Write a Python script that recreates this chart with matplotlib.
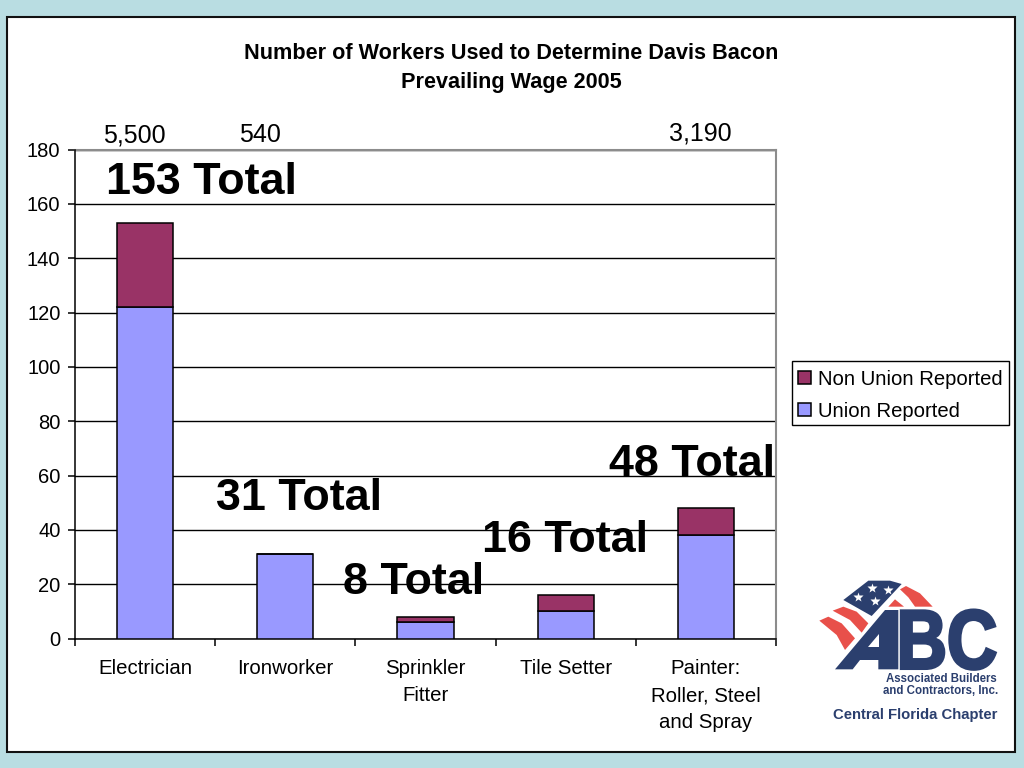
import matplotlib
matplotlib.use("Agg")
import matplotlib.pyplot as plt
import numpy as np
from matplotlib.patches import Polygon, PathPatch, Rectangle
from matplotlib.textpath import TextPath
from matplotlib.font_manager import FontProperties
from matplotlib.transforms import Affine2D

plt.rcParams['font.family'] = ['Liberation Sans', 'DejaVu Sans']

categorias = ['Electrician', 'Ironworker', 'Sprinkler\nFitter', 'Tile Setter', 'Painter:\nRoller, Steel\nand Spray']
union = [122, 31, 6, 10, 38]
non_union = [31, 0, 2, 6, 10]
totales = ['153 Total', '31 Total', '8 Total', '16 Total', '48 Total']
poblacion = ['5,500', '540', '3,190']
titulo = 'Number of Workers Used to Determine Davis Bacon\nPrevailing Wage 2005'

W, H = 1024, 768
AZUL = '#2B3F6E'
ROJO = '#E8504A'

fig = plt.figure(figsize=(W / 100, H / 100), dpi=100, facecolor='#B9DDE2')

# capa de fondo y anotaciones en pixeles
fondo = fig.add_axes([0, 0, 1, 1], zorder=0)
fondo.set_xlim(0, W)
fondo.set_ylim(H, 0)
fondo.axis('off')
fondo.add_patch(Rectangle((7, 17), 1008, 735, fc='white', ec='#111111', lw=1.5))
# marco de la leyenda, aparte para poder bajar el texto
fondo.add_patch(Rectangle((792, 361), 217, 64, fc='white', ec='black', lw=1.0))

# grafico principal
ax = fig.add_axes([75 / W, 1 - 638.5 / H, 701 / W, 489 / H], zorder=1)
ax.patch.set_alpha(0)
x = np.arange(len(categorias))
ax.bar(x, union, width=0.4, color='#9999FF', edgecolor='black', linewidth=1.1, zorder=3, label='Union Reported')
ax.bar(x, non_union, width=0.4, bottom=union, color='#993366', edgecolor='black', linewidth=1.1, zorder=3,
       label='Non Union Reported')
ax.set_xlim(-0.5, 4.5)
ax.set_ylim(0, 180)
ax.set_yticks(range(0, 181, 20))
ax.tick_params(axis='y', labelsize=14.5, length=5, width=1.1, pad=5.5)
ax.grid(axis='y', color='black', linewidth=1.0, zorder=1)
ax.set_xticks(np.arange(-0.5, 5, 1))
ax.set_xticklabels([])
ax.tick_params(axis='x', length=5, width=1.1)
ax.set_xticks(x, minor=True)
ax.set_xticklabels(categorias, minor=True, fontsize=14.7, linespacing=1.52)
ax.tick_params(axis='x', which='minor', length=0, pad=15)
for lado in ['top', 'right']:
    ax.spines[lado].set_color('#8C8C8C')
    ax.spines[lado].set_linewidth(1.5)
    ax.spines[lado].set_zorder(2)
ax.spines['left'].set_linewidth(1.1)
ax.spines['bottom'].set_linewidth(1.1)

h, l = ax.get_legend_handles_labels()
leg = fig.legend(h[::-1], l[::-1], loc='lower left', bbox_to_anchor=(792 / W, 1 - 427 / H, 217 / W, 64 / H),
                 mode='expand', fontsize=14.6, frameon=False,
                 borderaxespad=0, handlelength=0.62, handleheight=0.62, handletextpad=0.35,
                 labelspacing=0.62, borderpad=0.32)

# capa superior
capa = fig.add_axes([0, 0, 1, 1], zorder=2)
capa.set_xlim(0, W)
capa.set_ylim(H, 0)
capa.axis('off')

capa.text(511.5, 68, titulo, ha='center', va='center', fontsize=15.6, fontweight='bold', linespacing=1.55)

for txt, px, py in zip(poblacion, [134.5, 260, 700], [135, 135, 133]):
    capa.text(px, py, txt, ha='center', va='center', fontsize=18)

pos_totales = [(201, 183), (299, 498), (414, 583), (564.5, 541), (692, 464)]
for txt, (px, py) in zip(totales, pos_totales):
    capa.text(px, py, txt, ha='center', va='center', fontsize=32.3, fontweight='bold')


# logo: coordenadas del recorte ampliado x3 a partir de (800, 560)
def lp(puntos):
    return [(800 + a / 3, 560 + b / 3) for a, b in puntos]


capa.add_patch(Polygon(lp([(130, 120), (205, 62), (270, 62), (305, 72), (215, 168)]), fc=AZUL, ec='none'))
for a, b in [(217, 85), (265, 90), (175, 110), (226, 123)]:
    (sx, sy), = lp([(a, b)])
    capa.plot(sx, sy, marker='*', ms=7, color='white', mec='none')
rayas = [
    [(300, 88), (318, 78), (360, 100), (398, 140), (345, 140), (325, 112)],
    [(265, 140), (285, 118), (312, 140)],
    [(98, 152), (130, 140), (170, 155), (205, 190), (185, 218), (150, 180)],
    [(58, 182), (85, 170), (125, 190), (165, 235), (135, 270), (110, 225)],
]
for r in rayas:
    capa.add_patch(Polygon(lp(r), fc=ROJO, ec='none'))

capa.add_patch(Polygon(lp([(105, 328), (255, 150), (295, 150), (295, 328), (235, 328), (235, 300), (180, 300),
                           (158, 328)]), fc=AZUL, ec='none'))
capa.add_patch(Polygon(lp([(205, 262), (238, 262), (238, 222)]), fc='white', ec='none'))

fp = FontProperties(family='Liberation Sans', weight='bold')
tp = TextPath((0, 0), 'BC', size=100, prop=fp)
caja = tp.get_extents()
ancho, alto = (586 - 304) / 3, (328 - 150) / 3
trans = (Affine2D().translate(-caja.x0, -caja.y0)
         .scale(ancho / caja.width, -alto / caja.height)
         .translate(800 + 304 / 3, 560 + 328 / 3))
capa.add_patch(PathPatch(trans.transform_path(tp), fc=AZUL, ec=AZUL, lw=2.2))

capa.text(941, 685, 'Associated Builders\nand Contractors, Inc.', ha='center', va='center', color=AZUL,
          fontsize=8.3, fontweight='bold', linespacing=1.0)
capa.text(915.5, 715.5, 'Central Florida Chapter', ha='center', va='center', color=AZUL,
          fontsize=10.7, fontweight='bold')

fig.savefig('out.png', dpi=100, facecolor=fig.get_facecolor())
plt.close(fig)
